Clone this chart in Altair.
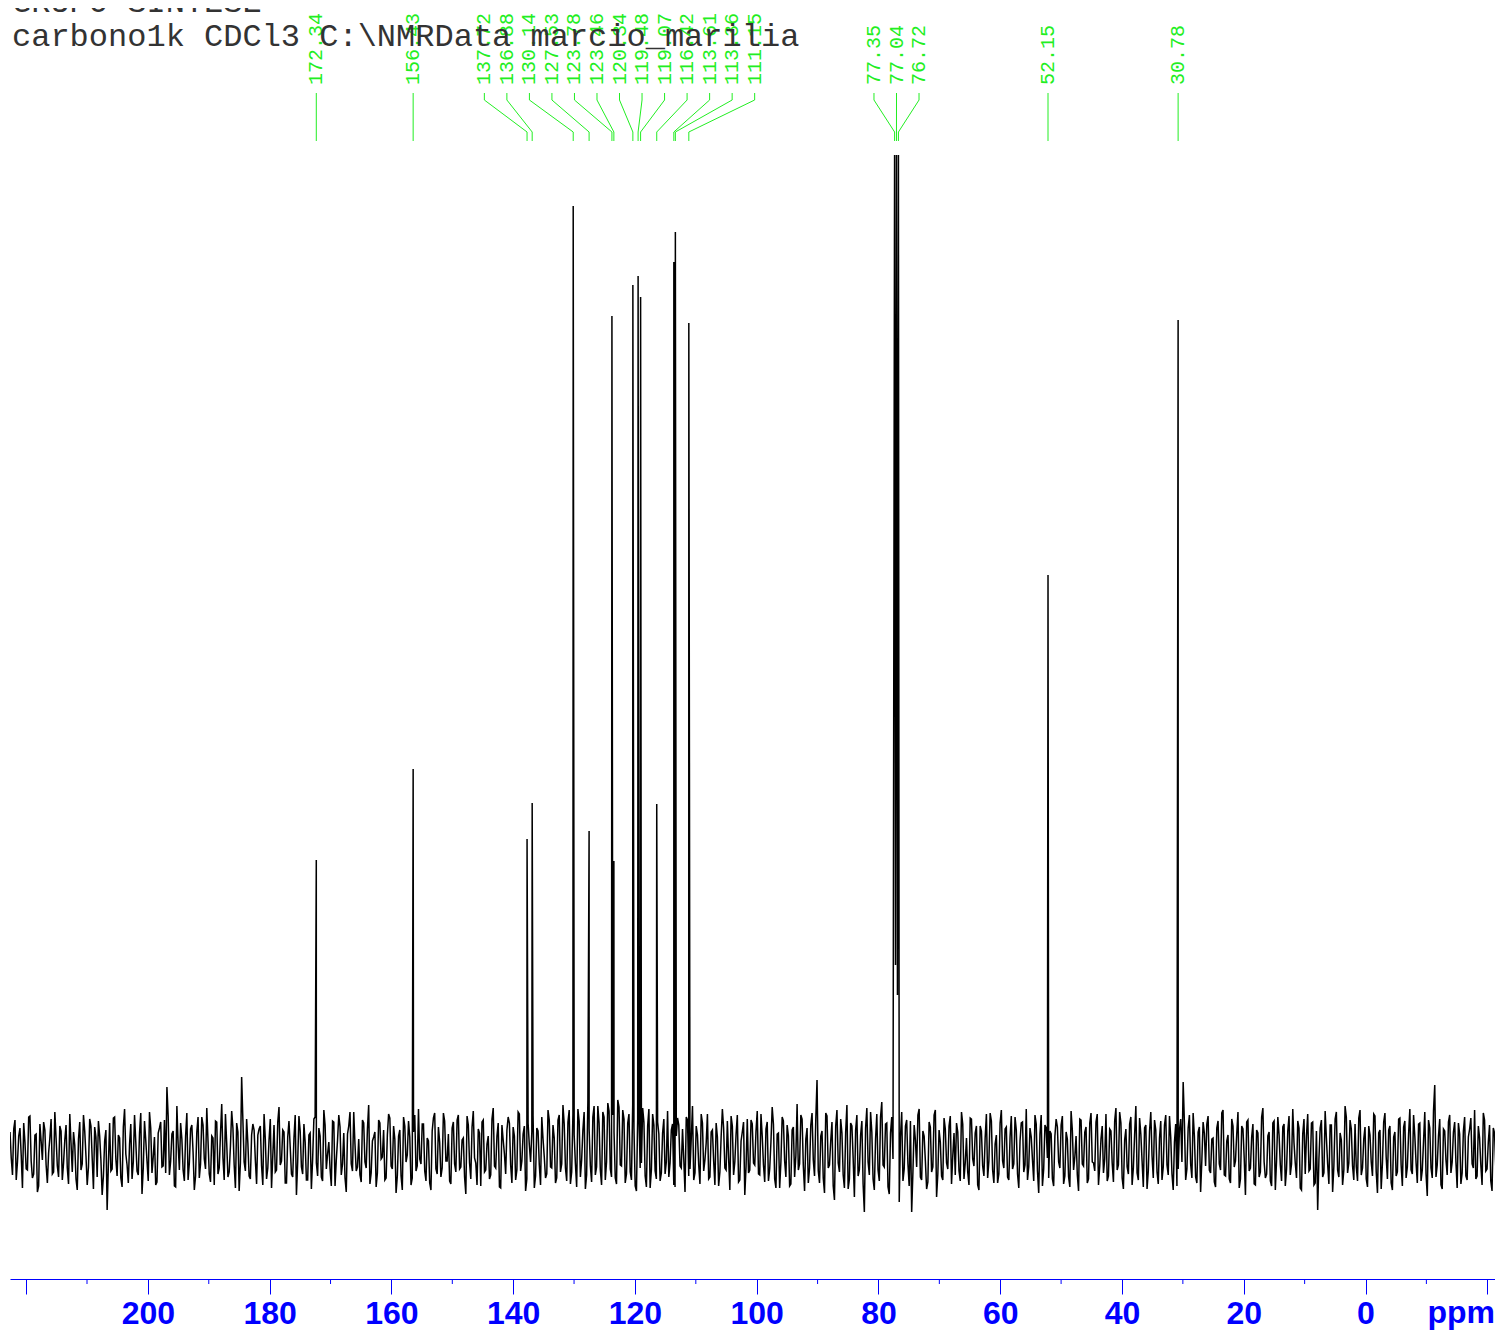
import altair as alt
import pandas as pd
import numpy as np

# ---- data ----
peak_ppm = [172.34, 156.43, 137.72, 136.88, 130.14, 127.53, 123.78, 123.46, 120.34,
            119.48, 119.07, 116.42, 113.61, 113.36, 111.15, 77.35, 77.04, 76.72,
            52.15, 30.78]
peak_height = [290, 381, 311, 347, 944, 319, 834, 289, 865,
               874, 853, 346, 888, 918, 827, 1100, 1100, 1100,
               575, 830]
valley_ppm = [77.20, 76.88]
valley_height = [185, 155]

# baseline noise, estimated, on a uniform grid (trace A)
noise_a = [
    18, -25, 30, -12, 22, -38, 8, -20, 34, -28, 15, -42, 26, -10, 20, -33, 12, -24, 38, -16,
    24, -30, 10, -18, 36, -22, 5, -40, 28, -14, 19, -35, 31, -8, 23, -27, 14, -45, 9, -60,
    27, -19, 33, -26, 12, -37, 41, -15, 6, -29, 35, -21, 17, -44, 29, -11, 38, -23, 13, -32,
    22, -17, 30, 63, -25, 16, -36, 44, -20, 11, -31, 37, -13, 25, -40, 18, -28, 33, -9, 42,
    -24, 14, -35, 28, -18, 46, -30, 7, -22, 39, -15, 27, -41, 73, -12, 31, -26, 15, 20, -34,
    21, -16, 36, -29, 10, -38, 25, -20, 43, -11, 18, -33, 29, -24, 12, -45, 34, -17, 26, -30,
    15, -39, 31, -13, 22, -27, 40, -19, 8, -36, 28, -10, 35, -25, 17, -42, 24, -14, 38, -21,
    11, -32, 27, -18, 45, -23, 13, -37, 30, -9, 20, -28, 36, -16, 24, -43, 14, -26, 33, -12,
    29, -35, 18, -21, 41, -14, 26, -31, 9, -40, 32, -19, 23, -27, 37, -11, 16, -34, 28, -22,
    35, -17, 12, -44, 25, -29, 39, -13, 21, -36, 30, -20, 14, -25, 42, -18, 27, -38, 10, -24,
    33, -15, 23, -30, 38, -21, 16, -41, 27, -12, 34, -26, 19, -35, 11, -28, 40, -17, 25, -33,
    30, -22, 45, -18, 28, -34, 36, -14, 41, -27, 20, -39, 48, -16, 33, -25, 44, -20, 38, -30,
    47, -19, 35, -28, 50, -15, 40, -33, 27, -22, 46, -36, 31, -18, 42, -26, 24, -38, 36, -21,
    28, -31, 17, -24, 39, -13, 26, -37, 32, -16, 21, -42, 30, -19, 44, -23, 15, -34, 27, -10,
    36, -27, 20, -35, 13, -22, 41, -18, 29, -40, 24, -12, 35, -30, 18, -45, 31, -20, 26, -15,
    39, -25, 14, -32, 28, -19, 43, -29, 16, -38, 33, -11, 25, -36, 20, -27, 46, -14, 31, -41,
    22, -18, 37, -26, 70, -33, 19, -43, 34, -15, 28, -50, 40, -22, 17, -38, 45, -29, 24, -47,
    35, -20, 29, -62, 42, -25, 18, -40, 36, -31, 48, -17, 27, -44, 33, -28, 21, -52, 38, -19,
    30, -36, -62, 25, -17, 41, -30, 14, -39, 28, -22, 35, -47, 20, -26, 32, -13, 24, -34, 17,
    27, -21, 38, -29, 12, -35, 31, -16, 24, -40, 19, -26, 36, -11, 29, -33, 15, -24, 40, -18,
    23, -30, 34, -14, 20, -38, 27, -22, 41, -17, 13, -31, 26, -43, 35, -19, 22, -28, 16, -36,
    31, -12, 25, -34, 18, -27, 39, -20, 14, -41, 30, -16, 23, -29, 37, -13, 28, -35, 11, -23,
    36, -26, 19, -32, 42, -15, 27, -39, 21, -24, 33, -18, 44, -30, 16, -37, 25, -21, 38, -28,
    20, -34, 29, -17, 35, -25, 13, -40, 26, -19, 31, 68, -30, 22, -14, 37, -27, 18, -42, 28,
    -16, 34, -23, 12, -37, 29, -20, 40, -26, 15, -33, 24, -11, 38, -29, 21, -45, 30, -18, 26,
    -35, 17, -22, 42, -28, 14, -31, 27, -40, 33, -15, 23, -36, 19, -25, 41, -13, 29, -38, 16,
    -24, 36, -19, 28, -33, -60, 22, -27, 39, -14, 25, -42, 31, -20, 17, -35, 44, -23, 30, -16,
    26, -31, 40, -18, 23, -37, 15, -26, 34, -43, 20, -13, 37, -29, 24, -40, 18, -22, 32, -36,
    29, -17, 41, -24, 14, -33, 27, -20, 38, -46, 22, -28, 65, -15, 31, -39, 19, -25, 35, -12,
    28, -38, 16, -23, 33, -30, 21, -14, 40, -26, 12, -35, 30, -19, 25, -41, 17, -29, 36, -22,
]

# baseline noise, estimated, at the points half-way between trace A's points (trace B)
noise_b = [
    -8, 21, -30, 14, -5, 27, -19, 33, -11, -24, 16, -36, 9, 28, -15, -3, 31, -22, 12, -27,
    19, -13, 25, -34, 7, 18, -29, 11, -20, 35, -6, -17, 24, -39, 13, 29, -10, -26, 20, -14,
    -21, 32, -9, 15, -28, 23, -4, -33, 26, -12, 8, -25, 37, -18, 10, -31, 22, -7, -35, 17,
    28, -16, -23, 34, -11, 19, -37, 6, 27, -20, 14, -30, 21, -2, -26, 33, -14, 25, -19, 9,
    -32, 12, 29, -24, 16, -8, 36, -27, 4, 22, -38, 18, -13, 30, -21, 7, -29, 26, -10, 15,
    24, -35, 11, -18, 31, -6, -22, 28, -15, 20, -33, 13, 3, -27, 35, -12, 19, -24, 8, -30,
    17, -9, 33, -26, 14, -31, 25, -4, -19, 29, -36, 10, 23, -14, -28, 16, 38, -21, 6, -17,
    -25, 30, -12, 21, -34, 9, 18, -23, 27, -7, -30, 15, 32, -19, 11, -26, 20, -40, 24, -5,
    13, -28, 35, -16, -9, 26, -21, 12, -33, 19, 37, -24, 8, -18, 29, -11, -31, 22, -14, 30,
    -19, 10, -27, 34, -13, 23, -8, -35, 17, 28, -22, 6, -29, 31, -16, 14, -37, 25, -4, 20,
    27, -33, 14, -20, 36, -11, 24, -29, 5, 18, -38, 22, -15, 33, -7, -24, 30, -18, 12, -28,
    35, -14, 26, -31, 40, -22, 15, -37, 29, -10, 38, -25, 21, -32, 44, -17, 27, -35, 33, -12,
    39, -27, 18, -34, 43, -16, 31, -24, 36, -30, 22, -41, 34, -13, 28, -37, 41, -20, 25, -29,
    16, -23, 31, -12, -27, 20, -35, 14, 25, -18, -9, 33, -26, 11, -30, 24, -15, 36, -21, 7,
    -29, 18, -11, 27, -36, 13, 22, -20, -8, 34, -25, 16, -32, 9, 28, -17, -23, 30, -13, 19,
    -24, 36, -15, 21, -31, 8, 26, -38, 17, -12, 29, -27, 14, -34, 23, -6, -20, 35, -16, 11,
    -33, 25, -10, 30, -21, 14, -28, 37, -18, 9, -36, 24, -13, 31, -25, 18, -39, 27, -8, 20,
    -26, 15, -34, 22, -12, 38, -29, 11, -20, 33, -15, 26, -37, 17, -9, 30, -23, 13, -31, 24,
    -14, 29, -22, 10, 35, -27, 19, -11, -32, 23, -17, 40, -24, 8, -30, 21, -19, 34, -6, -25,
    18, -31, 26, -13, -22, 32, -9, 17, -35, 24, -16, 12, -28, 37, -20, 6, -33, 27, -11, 21,
    -27, 13, -19, 33, -24, 9, 28, -15, -30, 22, -10, 35, -21, 16, -36, 25, -8, 19, -29, 14,
    23, -18, 34, -26, 11, -37, 20, -7, -25, 31, -14, 18, -33, 27, -12, -21, 36, -16, 24, -9,
    -31, 21, -13, 29, -20, 38, -28, 10, -17, 26, -35, 15, -23, 32, -11, 22, -39, 19, -6, 30,
    -22, 12, -30, 25, -15, 34, -24, 8, -36, 20, -12, 27, -19, 35, -28, 14, -33, 23, -10, 17,
    26, -20, 11, -32, 22, -14, 37, -25, 9, -29, 31, -17, 16, -38, 24, -8, 28, -21, 13, -34,
    20, -27, 33, -12, -24, 18, -36, 29, -10, 15, -31, 26, -19, 34, -14, 7, -28, 22, -40, 31,
    14, -21, 27, -35, 19, -9, 30, -23, 12, -34, 25, -16, 38, -27, 10, -20, 33, -13, 21, -30,
    -17, 32, -25, 11, -29, 24, -12, 36, -22, 17, -39, 28, -7, 20, -33, 13, -26, 31, -15, 23,
    -28, 16, -20, 35, -13, 26, -31, 9, -24, 30, -18, 39, -27, 14, -35, 21, -10, 28, -23, 18,
    -12, 27, -34, 19, -26, 13, 32, -18, -29, 24, -15, 37, -21, 8, -31, 22, -17, 29, -36, 15,
]

major_ticks = list(range(-20, 221, 20))
minor_ticks = list(range(-10, 211, 20))
title_lines = ["GRUPO SINTESE", "carbono1k CDCl3 C:\\NMRData marcio_marilia"]
axis_unit = ["ppm"]

# ---- layout / style ----
X_LEFT, X_RIGHT = 222.65, -21.27
GRID_RIGHT = -22.42
W, H = 1485, 1271
GREEN = "#22ee22"
BLUE = "#0000ff"
LABEL_GAP = 3.7

# spectrum table: the two staggered noise traces, with the peaks inserted
grid_a = np.linspace(X_LEFT, GRID_RIGHT, len(noise_a))
step = (X_LEFT - GRID_RIGHT) / (len(noise_a) - 1)
grid_b = grid_a[: len(noise_b)] - step / 2
ppm_all = np.concatenate([grid_a, grid_b])
val_all = np.array(noise_a + noise_b)
keep = ~((ppm_all > 76.60) & (ppm_all < 77.47))
spec = pd.DataFrame({
    "ppm": list(ppm_all[keep]) + peak_ppm + valley_ppm,
    "intensity": list(val_all[keep]) + peak_height + valley_height,
}).sort_values("ppm", ascending=False).reset_index(drop=True)
spec["order"] = range(len(spec))


def spread(peaks, gap):
    clusters = [[p] for p in sorted(peaks, reverse=True)]

    def pos(c):
        m = sum(c) / len(c)
        n = len(c)
        return [m + gap * ((n - 1) / 2 - k) for k in range(n)]

    merged = True
    while merged:
        merged = False
        for i in range(len(clusters) - 1):
            if pos(clusters[i])[-1] - pos(clusters[i + 1])[0] < gap:
                clusters[i] = clusters[i] + clusters[i + 1]
                del clusters[i + 1]
                merged = True
                break
    out = {}
    for c in clusters:
        for p, l in zip(c, pos(c)):
            out[p] = l
    return out


lp = spread(peak_ppm, LABEL_GAP)
labels = pd.DataFrame({
    "ppm": peak_ppm,
    "label_ppm": [lp[p] for p in peak_ppm],
    "text": [f"{p:.2f}" for p in peak_ppm],
})

xscale = alt.Scale(domain=[X_LEFT, X_RIGHT], nice=False, zero=False)

xaxis = alt.Axis(
    values=major_ticks, tickSize=15, tickColor=BLUE, tickWidth=1,
    domainColor=BLUE, domainWidth=1, labelColor=BLUE,
    labelFont="Liberation Sans", labelFontSize=32, labelFontWeight="bold",
    labelPadding=4, labelFlush=False, labelOverlap=False,
    labelExpr="(datum.value < 0 || datum.value > 200) ? '' : datum.label",
    grid=False, title=None,
)

spectrum = alt.Chart(spec).mark_line(color="black", strokeWidth=1.5, clip=True).encode(
    x=alt.X("ppm:Q", scale=xscale, axis=xaxis),
    y=alt.Y("intensity:Q", scale=alt.Scale(domain=[-129, 995], range=[H, 147], clamp=True), axis=None),
    order="order:Q",
)

minor = alt.Chart(pd.DataFrame({"v": minor_ticks})).mark_rule(color=BLUE, strokeWidth=1).encode(
    x=alt.X("v:Q", axis=xaxis), y=alt.value(H), y2=alt.value(H + 5)
)

unit = alt.Chart(pd.DataFrame({"v": [-20], "t": axis_unit})).mark_text(
    font="Liberation Sans", fontSize=32, fontWeight="bold", color=BLUE,
    baseline="top", align="center", dx=-26,
).encode(x=alt.X("v:Q", axis=xaxis), y=alt.value(H + 19), text="t:N")

lab_base = alt.Chart(labels)
rule_top = lab_base.mark_rule(color=GREEN, strokeWidth=1).encode(
    x=alt.X("label_ppm:Q", axis=xaxis), y=alt.value(85), y2=alt.value(92)
)
rule_mid = lab_base.mark_rule(color=GREEN, strokeWidth=1).encode(
    x=alt.X("label_ppm:Q", axis=xaxis), x2="ppm:Q", y=alt.value(92), y2=alt.value(124)
)
rule_bot = lab_base.mark_rule(color=GREEN, strokeWidth=1).encode(
    x=alt.X("ppm:Q", axis=xaxis), y=alt.value(124), y2=alt.value(133)
)
label_text = lab_base.mark_text(
    angle=270, align="left", baseline="middle", font="Liberation Mono",
    fontSize=20, color=GREEN,
).encode(x=alt.X("label_ppm:Q", axis=xaxis), y=alt.value(77), text="text:N")

title1 = alt.Chart(pd.DataFrame({"t": [title_lines[0]]})).mark_text(
    font="Liberation Mono", fontSize=32, color="#333333", align="left", baseline="alphabetic"
).encode(x=alt.value(2), y=alt.value(4), text="t:N")
title2 = alt.Chart(pd.DataFrame({"t": [title_lines[1]]})).mark_text(
    font="Liberation Mono", fontSize=32, color="#333333", align="left", baseline="alphabetic"
).encode(x=alt.value(2), y=alt.value(38), text="t:N")

chart = alt.layer(
    spectrum, minor, unit, rule_top, rule_mid, rule_bot, label_text, title1, title2
).properties(
    width=W, height=H,
    autosize=alt.AutoSizeParams(type="none"),
    padding={"left": 2, "right": 0, "top": 0, "bottom": 51},
    background="white",
).configure_view(strokeWidth=0)

chart.save("out.html", embed_options={"renderer": "svg", "actions": False})
